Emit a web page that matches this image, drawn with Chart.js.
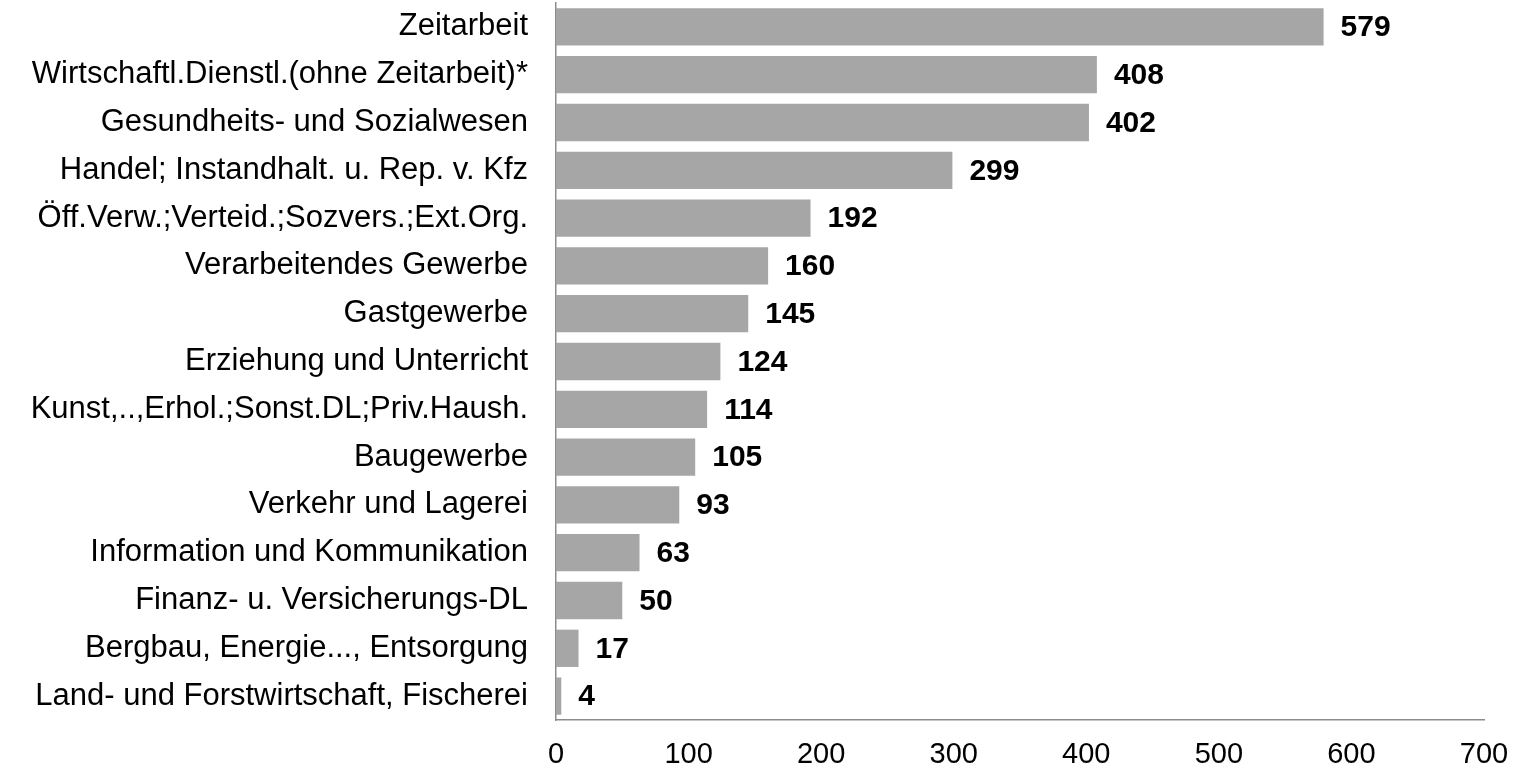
<!DOCTYPE html>
<html>
<head>
<meta charset="utf-8">
<script src="https://cdn.jsdelivr.net/npm/chart.js@4"></script>
<style>
  html, body { margin: 0; padding: 0; background: #fff; }
  #wrap { width: 1528px; height: 770px; }
</style>
</head>
<body>
<div id="wrap"><canvas id="branchenChart" width="1528" height="770"></canvas></div>
<script>
// Daten
const branchen = [
  "Zeitarbeit",
  "Wirtschaftl.Dienstl.(ohne Zeitarbeit)*",
  "Gesundheits- und Sozialwesen",
  "Handel; Instandhalt. u. Rep. v. Kfz",
  "Öff.Verw.;Verteid.;Sozvers.;Ext.Org.",
  "Verarbeitendes Gewerbe",
  "Gastgewerbe",
  "Erziehung und Unterricht",
  "Kunst,..,Erhol.;Sonst.DL;Priv.Haush.",
  "Baugewerbe",
  "Verkehr und Lagerei",
  "Information und Kommunikation",
  "Finanz- u. Versicherungs-DL",
  "Bergbau, Energie..., Entsorgung",
  "Land- und Forstwirtschaft, Fischerei"
];
const werte = [579, 408, 402, 299, 192, 160, 145, 124, 114, 105, 93, 63, 50, 17, 4];
const xTicks = [0, 100, 200, 300, 400, 500, 600, 700];

const FONT = "'Liberation Sans', Arial, sans-serif";

// Werte rechts neben die Balken schreiben
const wertLabels = {
  id: "wertLabels",
  afterDatasetsDraw(chart) {
    const ctx = chart.ctx;
    const meta = chart.getDatasetMeta(0);
    ctx.save();
    ctx.font = "bold 30px " + FONT;
    ctx.fillStyle = "#000";
    ctx.textAlign = "left";
    ctx.textBaseline = "middle";
    meta.data.forEach(function (bar, i) {
      ctx.fillText(String(werte[i]), bar.x + 17, bar.y + 1);
    });
    ctx.restore();
  }
};

new Chart(document.getElementById("branchenChart").getContext("2d"), {
  type: "bar",
  data: {
    labels: branchen,
    datasets: [{
      data: werte,
      backgroundColor: "#a6a6a6",
      borderWidth: 0,
      barPercentage: 0.78,
      categoryPercentage: 1.0
    }]
  },
  options: {
    indexAxis: "y",
    responsive: false,
    animation: false,
    layout: { padding: { top: 3, right: 44, bottom: 0, left: 0 } },
    plugins: {
      legend: { display: false },
      tooltip: { enabled: false }
    },
    scales: {
      x: {
        min: 0,
        max: 700,
        afterBuildTicks(scale) {
          scale.ticks = xTicks.map(v => ({ value: v }));
        },
        grid: { display: false, drawTicks: false },
        border: { display: true, color: "#8c8c8c", width: 1.5 },
        ticks: {
          color: "#000",
          font: { family: FONT, size: 29 },
          padding: 18
        },
        afterFit(scale) {
          scale.height = 50;
        }
      },
      y: {
        grid: { display: false, drawTicks: false },
        border: { display: true, color: "#8c8c8c", width: 1.5 },
        ticks: {
          color: "#000",
          font: { family: FONT, size: 31 },
          padding: 28,
          autoSkip: false
        },
        afterFit(scale) {
          scale.width = 556;
          scale.paddingTop = 0;
          scale.paddingBottom = 0;
        }
      }
    }
  },
  plugins: [wertLabels]
});
</script>
</body>
</html>
